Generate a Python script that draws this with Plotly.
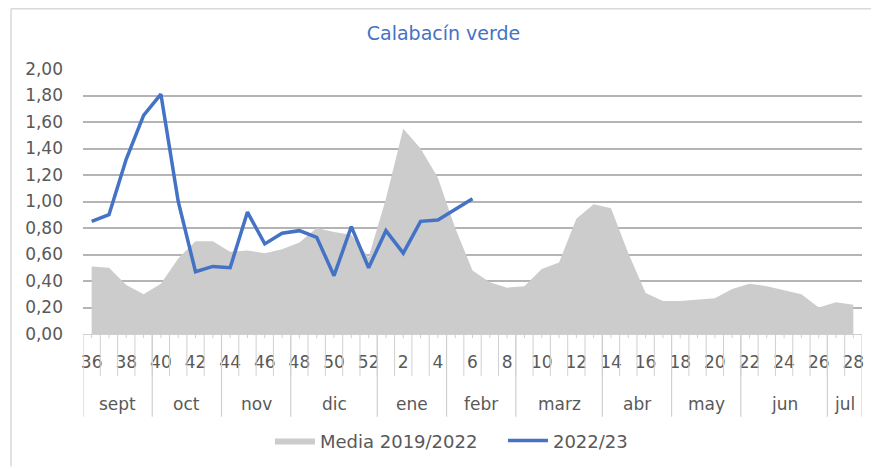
import plotly.graph_objects as go

weeks = list(range(36, 53)) + list(range(1, 29))
media = [0.51, 0.50, 0.37, 0.30, 0.38, 0.57, 0.70, 0.70, 0.62, 0.63, 0.61, 0.64, 0.69,
         0.80, 0.77, 0.75, 0.58,
         1.02, 1.55, 1.40, 1.18, 0.80, 0.48, 0.39, 0.35, 0.36, 0.49, 0.54, 0.87, 0.98,
         0.95, 0.61, 0.31, 0.25, 0.25, 0.26, 0.27, 0.34, 0.38, 0.36, 0.33, 0.30, 0.20,
         0.24, 0.22]
actual = [0.85, 0.90, 1.32, 1.65, 1.81, 1.00, 0.47, 0.51, 0.50, 0.92, 0.68, 0.76, 0.78,
          0.73, 0.44, 0.81, 0.50,
          0.78, 0.61, 0.85, 0.86, 0.94, 1.02]
months = ["sept", "oct", "nov", "dic", "ene", "febr", "marz", "abr", "may", "jun", "jul"]
month_sizes = [4, 4, 4, 5, 4, 4, 5, 4, 4, 5, 2]

TXT = "#595959"
GRID = "#B4B4B4"
AX = "#D0D0D0"
FONT = "DejaVu Sans"

idx = list(range(len(weeks)))
fig = go.Figure()
fig.add_trace(go.Scatter(x=idx, y=media, name="Media 2019/2022", mode="lines",
                         fill="tozeroy", fillcolor="#CCCCCC",
                         line=dict(color="#CCCCCC", width=0)))
fig.add_trace(go.Scatter(x=idx[:len(actual)], y=actual, name="2022/23", mode="lines",
                         line=dict(color="#4472C4", width=3.5)))

shapes = []
# category boundary lines through week-label row
for k in range(1, len(weeks)):
    shapes.append(dict(type="line", xref="x", yref="paper", x0=k - 0.5, x1=k - 0.5,
                       y0=0, y1=-0.158, line=dict(color=AX, width=1)))
# small ticks at category centers
for k in idx:
    shapes.append(dict(type="line", xref="x", yref="paper", x0=k, x1=k,
                       y0=0, y1=-0.016, line=dict(color=AX, width=1)))
# month labels and boundaries
annotations = []
start = 0
bounds = [0]
for m, s in zip(months, month_sizes):
    annotations.append(dict(x=start + (s - 1) / 2, y=-0.263, xref="x", yref="paper",
                            text=m, showarrow=False, yanchor="middle",
                            font=dict(size=17, color=TXT, family=FONT)))
    start += s
    bounds.append(start)
for b in bounds:
    shapes.append(dict(type="line", xref="x", yref="paper", x0=b - 0.5, x1=b - 0.5,
                       y0=0, y1=-0.312, line=dict(color=AX, width=1.2)))
# chart frame
shapes.append(dict(type="line", xref="paper", yref="paper", x0=-0.0924, x1=1.1,
                   y0=1.227, y1=1.227, line=dict(color="#D9D9D9", width=1.5)))
shapes.append(dict(type="line", xref="paper", yref="paper", x0=-0.0924, x1=-0.0924,
                   y0=1.227, y1=-0.5, line=dict(color="#D9D9D9", width=1.5)))

tickvals = [i for i in idx if i % 2 == 0]
ticktext = [str(weeks[i]) for i in tickvals]

fig.update_layout(
    width=871, height=462,
    margin=dict(l=75, r=17, t=61, b=135),
    paper_bgcolor="white", plot_bgcolor="white",
    separators=",.",
    font=dict(family=FONT, color=TXT),
    title=dict(text="Calabacín verde", x=0.5, xanchor="center", y=1 - 25 / 462,
               yanchor="middle", font=dict(size=19, color="#4472C4", family=FONT)),
    xaxis=dict(range=[-0.5, len(weeks) - 0.5], tickmode="array", tickvals=tickvals,
               ticktext=ticktext, showgrid=False, zeroline=False, showline=True,
               linecolor=AX, linewidth=1, ticks="", ticklabelstandoff=13,
               automargin=False,
               tickfont=dict(size=17, color=TXT, family=FONT), fixedrange=True),
    yaxis=dict(range=[0, 2.0], dtick=0.2, tickformat=".2f", showgrid=True,
               gridcolor=GRID, gridwidth=1.5, zeroline=False, showline=False,
               ticks="", ticklabelstandoff=19, automargin=False,
               tickfont=dict(size=17, color=TXT, family=FONT)),
    legend=dict(orientation="h", x=0.240, xanchor="left", y=-0.398, yanchor="middle",
                font=dict(size=18, color=TXT, family=FONT), itemwidth=40,
                entrywidth=178),
    shapes=shapes, annotations=annotations,
    showlegend=True,
)

fig.write_html("out.html")
